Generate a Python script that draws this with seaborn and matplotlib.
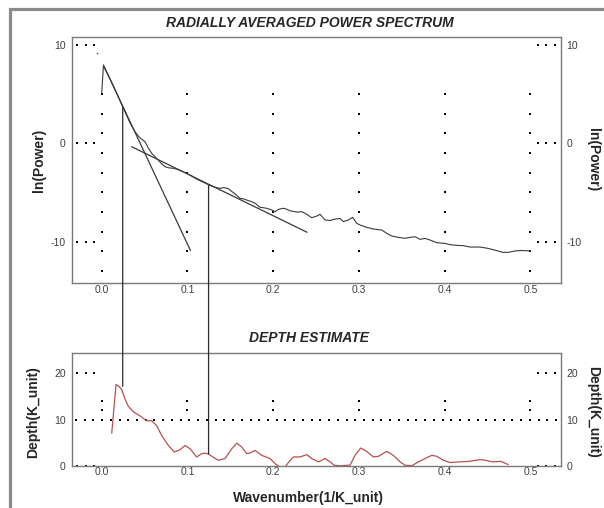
import numpy as np
import matplotlib
matplotlib.use("Agg")
import matplotlib.pyplot as plt
import matplotlib.transforms as mtransforms
from matplotlib.patches import ConnectionPatch, Rectangle
import seaborn as sns

sns.set_style("white")
plt.rcParams["font.family"] = ["Liberation Sans", "DejaVu Sans"]

# ---- radially averaged power spectrum: wavenumber vs ln(power) ----
spec_k = [0.000, 0.002, 0.0065, 0.011, 0.0155, 0.020, 0.0245, 0.029, 0.0335, 0.0388,
          0.044, 0.0505, 0.0545, 0.0583, 0.0641, 0.069, 0.0738, 0.0785, 0.0835, 0.0885,
          0.0933, 0.099, 0.105, 0.110, 0.1146, 0.1195, 0.125, 0.131, 0.138, 0.1425,
          0.1477, 0.1535, 0.1575, 0.1613, 0.1655, 0.1691, 0.175, 0.1788, 0.1846, 0.1885,
          0.1924, 0.1983, 0.2021, 0.206, 0.2118, 0.2157, 0.2196, 0.2274, 0.2333, 0.2391,
          0.2449, 0.2508, 0.2546, 0.2604, 0.2663, 0.2721, 0.278, 0.2818, 0.2876, 0.2927,
          0.2974, 0.3013, 0.3091, 0.3168, 0.3266, 0.3324, 0.3382, 0.3459, 0.3537, 0.3596,
          0.3654, 0.3712, 0.3771, 0.3829, 0.3907, 0.4004, 0.4062, 0.414, 0.4217, 0.4295,
          0.4412, 0.450, 0.460, 0.468, 0.475, 0.482, 0.490, 0.500]
spec_p = [5.1, 7.85, 7.1, 6.3, 5.45, 4.6, 3.7, 2.85, 2.0, 1.18,
          0.6, 0.16, -0.5, -1.02, -1.53, -2.0, -2.38, -2.5, -2.54, -2.65,
          -2.82, -3.05, -3.33, -3.6, -3.8, -4.0, -4.24, -4.45, -4.58, -4.5,
          -4.62, -5.02, -5.3, -5.6, -5.65, -5.77, -5.94, -6.1, -6.51, -6.55,
          -6.61, -6.78, -6.96, -6.72, -6.61, -6.7, -6.86, -6.99, -6.96, -7.22,
          -7.57, -7.4, -7.22, -7.8, -7.85, -7.7, -7.65, -7.97, -7.8, -7.53,
          -8.14, -8.31, -8.55, -8.72, -8.82, -9.16, -9.43, -9.57, -9.66, -9.57,
          -9.5, -9.77, -9.67, -9.84, -10.11, -10.18, -10.31, -10.38, -10.41, -10.55,
          -10.55, -10.68, -10.9, -11.1, -11.08, -10.95, -10.9, -10.95]
# lone sample drawn as a dot above the curve
lone_k = [-0.005]
lone_p = [9.15]

# straight-line fits (deep and shallow segments)
deep_fit_k = [0.002, 0.1035]
deep_fit_p = [7.97, -10.9]
shallow_fit_k = [0.035, 0.2395]
shallow_fit_p = [-0.35, -9.05]

# ---- depth estimate ----
depth_k = [0.0117, 0.0167, 0.0194, 0.0233, 0.0272, 0.031, 0.0369, 0.0447, 0.0525, 0.0583,
           0.0641, 0.070, 0.0777, 0.0847, 0.0913, 0.0972, 0.103, 0.1108, 0.1166, 0.1205,
           0.1244, 0.130, 0.136, 0.1438, 0.1516, 0.1575, 0.1633, 0.1691, 0.173, 0.1788,
           0.1866, 0.1963, 0.2021, 0.206, 0.2115, 0.2177, 0.2235, 0.2313, 0.2391, 0.2449,
           0.2527, 0.2605, 0.2663, 0.271, 0.278, 0.2896, 0.2954, 0.302, 0.309, 0.3168,
           0.3226, 0.3324, 0.3401, 0.3479, 0.3537, 0.3615, 0.3693, 0.377, 0.3849, 0.3907,
           0.3984, 0.4062, 0.4179, 0.4295, 0.4412, 0.447, 0.456, 0.4655, 0.474]
depth_d = [7.06, 17.55, 17.3, 16.5, 14.4, 12.9, 11.7, 10.8, 9.75, 9.75,
           8.7, 6.55, 4.43, 3.0, 3.5, 4.43, 3.72, 1.95, 2.66, 2.75,
           2.6, 1.9, 1.24, 1.6, 3.7, 4.93, 4.08, 2.66, 2.8, 3.37,
           2.3, 1.6, 0.53, 0.0, -0.8, 0.74, 1.95, 1.95, 2.45, 1.6,
           0.89, 1.6, 0.89, 0.17, 0.05, 0.17, 2.3, 3.87, 3.15, 1.95,
           2.09, 3.15, 2.3, 0.89, 0.17, 0.04, 0.89, 1.6, 2.3, 2.09,
           1.24, 0.74, 0.89, 1.02, 1.38, 1.24, 0.9, 1.0, 0.3]

# cursor lines linking the spectrum to the depth panel
cursor_k = [0.0245, 0.1246]
cursor_p = [3.6, -4.3]
cursor_d = [17.2, 2.6]

# axis ticks and dotted guide levels
x_ticks = [0.0, 0.1, 0.2, 0.3, 0.4, 0.5]
x_tick_labels = ["0.0", "0.1", "0.2", "0.3", "0.4", "0.5"]
spec_y_ticks = [-10, 0, 10]
depth_y_ticks = [0, 10, 20]
spec_grid_levels = [-13, -11, -9, -7, -5, -3, -1, 1, 3, 5]
depth_grid_levels = [12, 14]
depth_ref_level = 10

line_col = "#3a3a3a"
spine_col = "#7a7a7a"
tick_col = "#404040"
red_col = "#b8504e"

fig = plt.figure(figsize=(6.04, 5.08), dpi=100)
ax1 = fig.add_axes([0.1184, 0.4423, 0.8096, 0.4854])
ax2 = fig.add_axes([0.1184, 0.0827, 0.8096, 0.2218])

for ax, yt in ((ax1, spec_y_ticks), (ax2, depth_y_ticks)):
    ax.set_xlim(-0.0352, 0.535)
    ax.set_xticks(x_ticks)
    ax.set_xticklabels(x_tick_labels)
    ax.set_yticks(yt)
    ax.set_yticklabels([str(v) for v in yt])
    ax.tick_params(axis="both", length=0, labelsize=7.5, labelcolor=tick_col)
    ax.tick_params(axis="x", pad=1.0)
    ax.tick_params(axis="y", pad=4.2, labelleft=True, labelright=True)
    for sp in ax.spines.values():
        sp.set_color(spine_col)
        sp.set_linewidth(1.0)
    ax.set_xlabel("")
    ax.set_ylabel("")

ax1.set_ylim(-14.24, 10.84)
ax2.set_ylim(0, 24.3)

dot_kw = dict(ls="none", marker="s", ms=1.5, mew=0, color="black", zorder=1)

def short_guides(ax, levels):
    tr = mtransforms.blended_transform_factory(ax.transAxes, ax.transData)
    xs = [0.011, 0.029, 0.046, 0.954, 0.971, 0.989]
    for lv in levels:
        ax.plot(xs, [lv] * len(xs), transform=tr, **dot_kw)

def column_guides(ax, levels):
    for xt in x_ticks:
        ax.plot([xt] * len(levels), levels, **dot_kw)

# top panel guides
short_guides(ax1, spec_y_ticks)
column_guides(ax1, spec_grid_levels)

# bottom panel guides
short_guides(ax2, [0, 20])
column_guides(ax2, depth_grid_levels)
tr2 = mtransforms.blended_transform_factory(ax2.transAxes, ax2.transData)
ref_x = np.linspace(0.009, 0.991, 56)
ax2.plot(ref_x, [depth_ref_level] * len(ref_x), transform=tr2, **dot_kw)

# spectrum and fits
sns.lineplot(x=spec_k, y=spec_p, ax=ax1, color=line_col, lw=0.8,
             sort=False, estimator=None)
sns.lineplot(x=deep_fit_k, y=deep_fit_p, ax=ax1, color=line_col, lw=0.9,
             sort=False, estimator=None)
sns.lineplot(x=shallow_fit_k, y=shallow_fit_p, ax=ax1, color=line_col, lw=0.9,
             sort=False, estimator=None)
ax1.plot(lone_k, lone_p, ls="none", marker="o", ms=1.2, mew=0, color="#555555")

# depth curve
sns.lineplot(x=depth_k, y=depth_d, ax=ax2, color=red_col, lw=0.9,
             sort=False, estimator=None)

for ax in (ax1, ax2):
    ax.set_xlabel("")
    ax.set_ylabel("")

# cursor lines across both panels
for k, p, d in zip(cursor_k, cursor_p, cursor_d):
    con = ConnectionPatch(xyA=(k, p), coordsA=ax1.transData,
                          xyB=(k, d), coordsB=ax2.transData,
                          color="#2a2a2a", lw=0.9)
    fig.add_artist(con)

# titles and axis labels
W, H = 604.0, 508.0
fig.text(310 / W, 1 - 23 / H, "RADIALLY AVERAGED POWER SPECTRUM", ha="center",
         va="center", fontsize=10, fontweight="bold", fontstyle="italic")
fig.text(309 / W, 1 - 337.5 / H, "DEPTH ESTIMATE", ha="center", va="center",
         fontsize=10, fontweight="bold", fontstyle="italic")
fig.text(38.5 / W, 1 - 160 / H, "ln(Power)", rotation=90, ha="center", va="center",
         fontsize=10, fontweight="bold")
fig.text(593 / W, 1 - 160 / H, "ln(Power)", rotation=-90, ha="center", va="center",
         fontsize=10, fontweight="bold")
fig.text(33.5 / W, 1 - 412 / H, "Depth(K_unit)", rotation=90, ha="center", va="center",
         fontsize=10, fontweight="bold")
fig.text(593 / W, 1 - 412 / H, "Depth(K_unit)", rotation=-90, ha="center", va="center",
         fontsize=10, fontweight="bold")
fig.text(308 / W, 1 - 498 / H, "Wavenumber(1/K_unit)", ha="center", va="center",
         fontsize=10, fontweight="bold")

# outer gray frame
frame = Rectangle((9.5 / W, -0.1), 1.2, 1 - 9.5 / H + 0.1, transform=fig.transFigure,
                  fill=False, ec="#8a8a8a", lw=2.3)
fig.add_artist(frame)

fig.savefig("out.png", dpi=100)
